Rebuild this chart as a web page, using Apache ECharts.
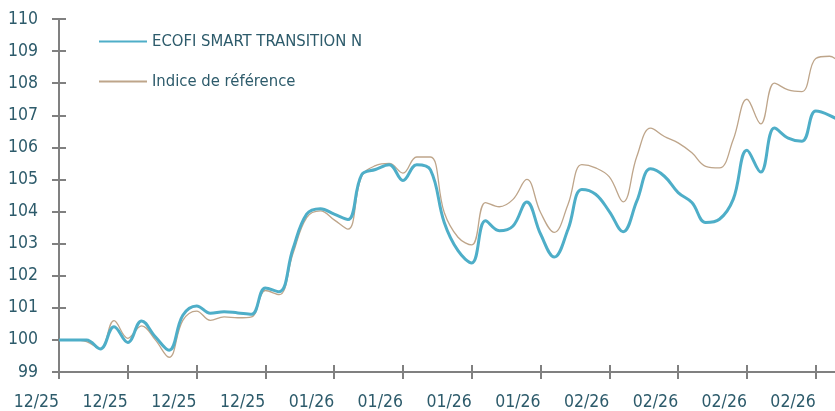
<!DOCTYPE html>
<html>
<head>
<meta charset="utf-8">
<script src="https://cdn.jsdelivr.net/npm/echarts@6/dist/echarts.min.js"></script>
<style>
html,body{margin:0;padding:0;background:#fff;}
#c{width:835px;height:411px;}
</style>
</head>
<body>
<div id="c"></div>
<script>
var seriesNames = ['ECOFI SMART TRANSITION N', 'Indice de référence'];
var tickLabels = ['12/25','12/25','12/25','12/25','01/26','01/26','01/26','01/26','02/26','02/26','02/26','02/26'];
var fund = [100.0,100.0,100.0,99.72,100.41,99.92,100.59,100.1,99.68,100.77,
  101.06,100.83,100.88,100.84,100.8,101.62,101.5,102.83,103.92,104.09,
  103.92,103.75,105.15,105.31,105.46,104.97,105.46,105.3,103.66,102.78,
  102.4,103.71,103.4,103.55,104.3,103.3,102.58,103.45,104.69,104.54,
  104.0,103.37,104.33,105.33,105.1,104.59,104.28,103.66,103.76,104.38,
  105.91,105.23,106.6,106.29,106.19,107.13,107.0,106.75];
var bench = [100.0,100.0,99.95,99.72,100.6,100.05,100.44,100.0,99.46,100.61,
  100.9,100.61,100.72,100.69,100.72,101.54,101.41,102.68,103.81,104.02,
  103.74,103.45,105.1,105.43,105.5,105.2,105.7,105.7,103.97,103.2,
  102.96,104.28,104.15,104.38,105.0,103.97,103.35,104.23,105.46,105.36,
  105.08,104.3,105.72,106.6,106.34,106.14,105.83,105.41,105.36,106.24,
  107.5,106.73,108.0,107.79,107.74,108.77,108.84,108.5];

var TXT = '#2d5b6b';
var FONT = '"DejaVu Sans Condensed","Roboto",sans-serif';
var tickVals = tickLabels.map(function(_, i){ return i * 5; });
function toPts(arr){ return arr.map(function(v, i){ return [i, v]; }); }

var chart = echarts.init(document.getElementById('c'));
var axisX = {
  type: 'value', min: 0, max: 56.4, interval: 5, position: 'bottom',
  splitLine: {show: false},
  axisLine: {lineStyle: {color: '#808080', width: 2}}
};
chart.setOption({
  animation: false,
  grid: {left: 59, right: 0, top: 19, bottom: 37, containLabel: false},
  legend: {
    orient: 'vertical', left: 93, top: 28, itemWidth: 48, itemHeight: 20, itemGap: 23,
    itemStyle: {opacity: 0},
    textStyle: {color: TXT, fontSize: 16.5, fontFamily: FONT},
    data: seriesNames
  },
  xAxis: [
    Object.assign({}, axisX, {
      axisTick: {show: true, length: 7, customValues: tickVals, lineStyle: {color: '#808080', width: 2}},
      axisLabel: {show: true, customValues: tickVals, align: 'right', margin: 21,
        color: TXT, fontSize: 17.5, fontFamily: FONT,
        formatter: function(v){ return tickLabels[Math.round(v / 5)] || ''; }}
    }),
    Object.assign({}, axisX, {
      axisLine: {show: false},
      axisTick: {show: true, inside: true, length: 7, customValues: tickVals, lineStyle: {color: '#808080', width: 2}},
      axisLabel: {show: false}
    })
  ],
  yAxis: [
    {
      type: 'value', min: 99, max: 110, interval: 1,
      splitLine: {show: false},
      axisLine: {show: true, lineStyle: {color: '#808080', width: 2}},
      axisTick: {show: true, length: 7, lineStyle: {color: '#808080', width: 2}},
      axisLabel: {margin: 21, color: TXT, fontSize: 17.5, fontFamily: FONT}
    },
    {
      type: 'value', min: 99, max: 110, interval: 1, position: 'left',
      splitLine: {show: false},
      axisLine: {show: false},
      axisTick: {show: true, inside: true, length: 7, lineStyle: {color: '#808080', width: 2}},
      axisLabel: {show: false}
    }
  ],
  series: [
    {
      name: seriesNames[1], type: 'line', data: toPts(bench), smooth: 0.4,
      symbol: 'none', clip: true, z: 2,
      lineStyle: {color: '#bea58a', width: 1.3}, itemStyle: {color: '#bea58a'}
    },
    {
      name: seriesNames[0], type: 'line', data: toPts(fund), smooth: 0.4,
      symbol: 'none', clip: true, z: 3,
      lineStyle: {color: '#4eaec8', width: 3}, itemStyle: {color: '#4eaec8'}
    }
  ]
});
</script>
</body>
</html>
